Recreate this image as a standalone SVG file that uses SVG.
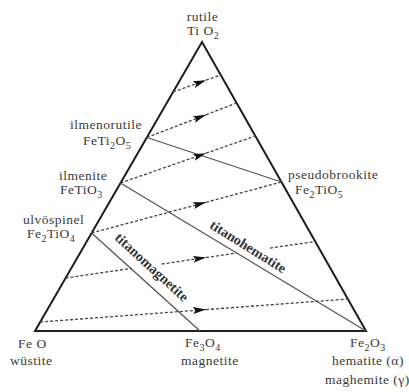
<svg xmlns="http://www.w3.org/2000/svg" width="409" height="392" viewBox="0 0 409 392">
<style>
  .lbl { font-family: "Liberation Serif", "Times New Roman", serif; font-size: 13.5px; letter-spacing: 0.5px; fill: #3a3a3a; }
  .sub { font-size: 10px; }
  .bold { font-family: "Liberation Serif", "Times New Roman", serif; font-size: 14px; font-weight: bold; fill: #333; text-anchor: middle; }
  .edge { fill: none; stroke: #1e1e1e; stroke-width: 2; stroke-linejoin: miter; }
  .tie { fill: none; stroke: #555; stroke-width: 1.3; }
  .dash { fill: none; stroke: #444; stroke-width: 1.3; stroke-dasharray: 3 2; }
  .arr { marker-end: url(#ah); }
</style>
<defs>
  <marker id="ah" markerUnits="userSpaceOnUse" viewBox="0 0 13 7" markerWidth="13" markerHeight="7" refX="13" refY="3.5" orient="auto">
    <path d="M0,0 L13,3.5 L0,7 L2.5,3.5 Z" fill="#111"/>
  </marker>
</defs>
<rect width="409" height="392" fill="#fff"/>

<g id="connectors">
  <polygon class="edge" points="202,42 366,331 35,331"/>
  <line class="tie" x1="146.8" y1="137.5" x2="281.4" y2="182"/>
  <line class="tie" x1="120.5" y1="183" x2="366" y2="331"/>
  <line class="tie" x1="91.6" y1="233" x2="200" y2="331"/>

  <path class="dash arr" d="M173.1,92 L206,80.2"/>
  <path class="dash" d="M206,80.2 L220.7,75"/>

  <path class="dash arr" d="M146.8,137.5 L206,114.8"/>
  <path class="dash" d="M206,114.8 L236.6,103"/>

  <path class="dash arr" d="M120.5,183 L206,153.2"/>
  <path class="dash" d="M206,153.2 L255.3,136"/>

  <path class="dash arr" d="M91.6,233 L206,202.3"/>
  <path class="dash" d="M206,202.3 L281.4,182"/>

  <path class="dash" d="M65.6,278 L131.7,268.3"/>
  <path class="dash arr" d="M161.7,264 L206,257.5"/>
  <path class="dash" d="M206,257.5 L236.7,253"/>
  <path class="dash" d="M270,248.1 L315.2,241.5"/>

  <path class="dash arr" d="M40.2,322 L206,309.6"/>
  <path class="dash" d="M206,309.6 L347.8,299"/>
</g>

<g id="rutile">
  <text class="lbl" x="202.5" y="21" text-anchor="middle">rutile</text>
  <text class="lbl" x="187" y="35">Ti O<tspan class="sub" dy="4">2</tspan></text>
</g>
<g id="ilmenorutile">
  <text class="lbl" x="142" y="129" text-anchor="end">ilmenorutile</text>
  <text class="lbl" x="83" y="145">FeTi<tspan class="sub" dy="4">2</tspan><tspan dy="-4">O</tspan><tspan class="sub" dy="4">5</tspan></text>
</g>
<g id="ilmenite">
  <text class="lbl" x="59" y="180">ilmenite</text>
  <text class="lbl" x="60" y="194">FeTiO<tspan class="sub" dy="4">3</tspan></text>
</g>
<g id="ulvospinel">
  <text class="lbl" x="23" y="224">ulvöspinel</text>
  <text class="lbl" x="27" y="238">Fe<tspan class="sub" dy="4">2</tspan><tspan dy="-4">TiO</tspan><tspan class="sub" dy="4">4</tspan></text>
</g>
<g id="pseudobrookite">
  <text class="lbl" x="288" y="179">pseudobrookite</text>
  <text class="lbl" x="295" y="194">Fe<tspan class="sub" dy="4">2</tspan><tspan dy="-4">TiO</tspan><tspan class="sub" dy="4">5</tspan></text>
</g>
<g id="wustite">
  <text class="lbl" x="18" y="348">Fe O</text>
  <text class="lbl" x="10" y="365">wüstite</text>
</g>
<g id="magnetite">
  <text class="lbl" x="185" y="347">Fe<tspan class="sub" dy="4">3</tspan><tspan dy="-4">O</tspan><tspan class="sub" dy="4">4</tspan></text>
  <text class="lbl" x="181" y="365">magnetite</text>
</g>
<g id="hematite">
  <text class="lbl" x="350" y="347">Fe<tspan class="sub" dy="4">2</tspan><tspan dy="-4">O</tspan><tspan class="sub" dy="4">3</tspan></text>
  <text class="lbl" x="332" y="365">hematite (α)</text>
  <text class="lbl" x="325" y="384">maghemite (γ)</text>
</g>
<g id="titanomagnetite">
  <text class="bold" transform="translate(148.6,270.6) rotate(42.5)">titanomagnetite</text>
</g>
<g id="titanohematite">
  <text class="bold" transform="translate(245.7,250.5) rotate(32)">titanohematite</text>
</g>
</svg>
